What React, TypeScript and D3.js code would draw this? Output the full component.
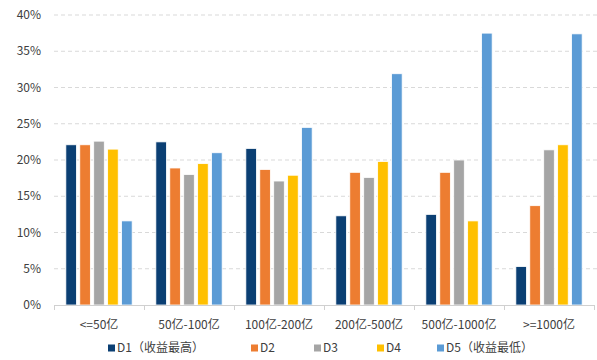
import React, { useEffect, useRef } from 'react';
import * as d3 from 'd3';

const categories = ['<=50亿', '50亿-100亿', '100亿-200亿', '200亿-500亿', '500亿-1000亿', '>=1000亿'];
const seriesNames = ['D1（收益最高）', 'D2', 'D3', 'D4', 'D5（收益最低）'];
const colors = ['#0b3f73', '#ed7d31', '#a5a5a5', '#ffc000', '#5b9bd5'];
const d1 = [22.1, 22.5, 21.6, 12.3, 12.5, 5.3];
const d2 = [22.1, 18.9, 18.7, 18.3, 18.3, 13.7];
const d3v = [22.6, 18.0, 17.1, 17.6, 20.0, 21.4];
const d4 = [21.5, 19.5, 17.9, 19.8, 11.6, 22.1];
const d5 = [11.6, 21.0, 24.5, 31.9, 37.5, 37.4];
const yTicks = [0, 5, 10, 15, 20, 25, 30, 35, 40];

const series = [d1, d2, d3v, d4, d5];
const FONT = '"Noto Sans CJK SC", "Noto Sans", sans-serif';

export default function App() {
  const svgRef = useRef<SVGSVGElement>(null);

  useEffect(() => {
    if (!svgRef.current) return;
    const svg = d3.select(svgRef.current);
    svg.selectAll('*').remove();

    const left = 54;
    const right = 594;
    const top = 15;
    const bottom = 305;

    const x = d3.scaleBand().domain(categories).range([left, right]).paddingInner(0).paddingOuter(0);
    const xInner = d3
      .scaleBand()
      .domain(seriesNames)
      .range([0, x.bandwidth()])
      .paddingInner(0.24)
      .paddingOuter(0.85);
    const y = d3.scaleLinear().domain([0, 40]).range([bottom, top]);

    // gridlines
    svg
      .append('g')
      .selectAll('line')
      .data(yTicks.filter((t) => t > 0))
      .enter()
      .append('line')
      .attr('x1', left)
      .attr('x2', 597)
      .attr('y1', (d) => y(d))
      .attr('y2', (d) => y(d))
      .attr('stroke', '#d9d9d9')
      .attr('stroke-width', 1)
      .attr('stroke-dasharray', '4,3');

    // y labels
    svg
      .append('g')
      .selectAll('text')
      .data(yTicks)
      .enter()
      .append('text')
      .attr('x', 41)
      .attr('y', (d) => y(d))
      .attr('dy', '0.35em')
      .attr('text-anchor', 'end')
      .style('font-family', FONT)
      .style('font-size', '12px')
      .style('fill', '#404040')
      .text((d) => `${d}%`);

    // bars
    series.forEach((vals, si) => {
      svg
        .append('g')
        .selectAll('rect')
        .data(vals)
        .enter()
        .append('rect')
        .attr('x', (_, i) => (x(categories[i]) || 0) + (xInner(seriesNames[si]) || 0))
        .attr('y', (d) => y(d))
        .attr('width', xInner.bandwidth())
        .attr('height', (d) => bottom - y(d))
        .attr('fill', colors[si])
        .attr('stroke', '#ffffff')
        .attr('stroke-width', 0.8);
    });

    // x axis
    const axis = svg.append('g');
    axis
      .append('line')
      .attr('x1', left)
      .attr('x2', right)
      .attr('y1', bottom + 0.5)
      .attr('y2', bottom + 0.5)
      .attr('stroke', '#d0d0d0');
    const bounds = [...categories.map((c) => x(c) || 0), right];
    axis
      .selectAll('.tick')
      .data(bounds)
      .enter()
      .append('line')
      .attr('x1', (d) => Math.round(d) + 0.5)
      .attr('x2', (d) => Math.round(d) + 0.5)
      .attr('y1', bottom)
      .attr('y2', bottom + 5)
      .attr('stroke', '#d0d0d0');
    axis
      .selectAll('text')
      .data(categories)
      .enter()
      .append('text')
      .attr('x', (d) => (x(d) || 0) + x.bandwidth() / 2)
      .attr('y', 325)
      .attr('dy', '0.35em')
      .attr('text-anchor', 'middle')
      .style('font-family', FONT)
      .style('font-size', '12px')
      .style('fill', '#404040')
      .text((d) => d);

    // legend
    const legendX = [108, 251, 314, 377, 437];
    const legend = svg
      .append('g')
      .selectAll('g')
      .data(seriesNames)
      .enter()
      .append('g')
      .attr('transform', (_, i) => `translate(${legendX[i]},348)`);
    legend
      .append('rect')
      .attr('x', 0)
      .attr('y', -3.5)
      .attr('width', 7)
      .attr('height', 7)
      .attr('fill', (_, i) => colors[i]);
    legend
      .append('text')
      .attr('x', 9)
      .attr('y', 0)
      .attr('dy', '0.35em')
      .style('font-family', FONT)
      .style('font-size', '12px')
      .style('fill', '#404040')
      .text((d) => d);
  }, []);

  return (
    <div style={{ position: 'absolute', left: 0, top: 0 }}>
      <svg ref={svgRef} width={597} height={360} style={{ display: 'block', background: '#fff' }}></svg>
    </div>
  );
}
